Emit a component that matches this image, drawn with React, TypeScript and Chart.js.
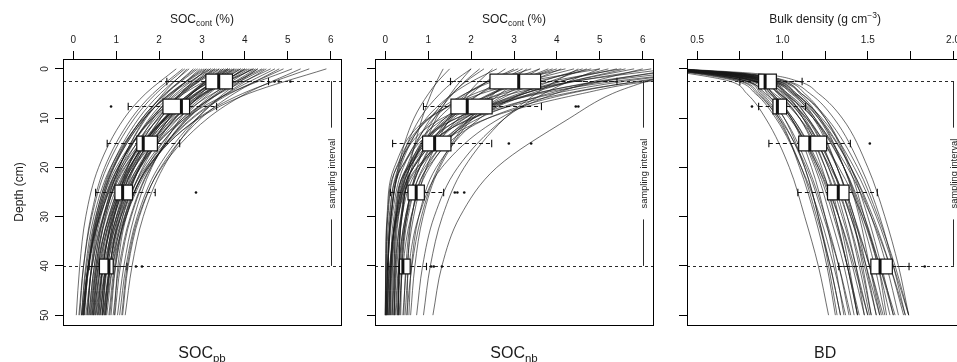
import { useEffect, useRef } from "react";
import { Chart, registerables } from "chart.js";

Chart.register(...registerables);

const FONT = '"Liberation Sans", Arial, Helvetica, sans-serif';
const INK = "#1c1c1c";
Chart.defaults.font.family = FONT;

// ---------- shared depth axis ----------
const DEPTH_MIN = -2;
const DEPTH_MAX = 52;
const DEPTH_TICKS = [0, 10, 20, 30, 40, 50];
const DEPTH_TITLE = "Depth (cm)";
const SAMPLING_TOP = 2.5;
const SAMPLING_BOTTOM = 40;
const SAMPLING_LABEL = "sampling interval";
const BOX_DEPTHS = [2.5, 7.5, 15, 25, 40];

// ---------- SOC x axis ----------
const SOC_TICKS = [0, 1, 2, 3, 4, 5, 6];
const SOC_TICK_LABELS = ["0", "1", "2", "3", "4", "5", "6"];

// ---------- SOC_pb: fitted profiles (value at each knot depth) ----------
const PB_KNOTS = [0, 5, 10, 20, 30, 40, 50];
const PB_CURVES = [
  [2.40, 1.69, 1.19, 0.59, 0.29, 0.15, 0.07],
  [2.55, 1.86, 1.36, 0.73, 0.41, 0.24, 0.15],
  [2.70, 2.03, 1.53, 0.88, 0.53, 0.34, 0.23],
  [2.80, 2.18, 1.70, 1.07, 0.70, 0.49, 0.37],
  [2.90, 2.16, 1.61, 0.91, 0.52, 0.31, 0.19],
  [3.00, 2.30, 1.78, 1.11, 0.75, 0.55, 0.44],
  [3.05, 2.25, 1.66, 0.94, 0.56, 0.36, 0.26],
  [3.10, 2.50, 2.04, 1.39, 1.00, 0.76, 0.62],
  [3.20, 2.29, 1.64, 0.87, 0.48, 0.29, 0.19],
  [3.25, 2.53, 1.98, 1.25, 0.83, 0.58, 0.44],
  [3.30, 2.57, 2.04, 1.34, 0.96, 0.75, 0.64],
  [3.35, 2.50, 1.86, 1.04, 0.59, 0.35, 0.22],
  [3.40, 2.54, 1.92, 1.15, 0.74, 0.53, 0.42],
  [3.45, 2.77, 2.24, 1.55, 1.15, 0.92, 0.78],
  [3.50, 2.77, 2.20, 1.41, 0.94, 0.65, 0.47],
  [3.55, 2.72, 2.11, 1.31, 0.88, 0.64, 0.51],
  [3.60, 2.58, 1.86, 1.00, 0.57, 0.36, 0.25],
  [3.65, 2.76, 2.12, 1.32, 0.90, 0.69, 0.57],
  [3.70, 2.88, 2.26, 1.43, 0.95, 0.68, 0.52],
  [3.75, 2.96, 2.37, 1.62, 1.20, 0.98, 0.85],
  [3.80, 2.84, 2.13, 1.21, 0.71, 0.44, 0.29],
  [3.85, 2.86, 2.16, 1.33, 0.91, 0.70, 0.60],
  [3.90, 2.89, 2.16, 1.25, 0.77, 0.52, 0.39],
  [3.95, 3.17, 2.55, 1.71, 1.19, 0.88, 0.69],
  [4.00, 3.06, 2.37, 1.53, 1.08, 0.85, 0.73],
  [4.10, 3.09, 2.34, 1.37, 0.84, 0.55, 0.40],
  [4.15, 3.28, 2.64, 1.81, 1.35, 1.10, 0.97],
  [4.20, 3.06, 2.26, 1.30, 0.82, 0.58, 0.47],
  [4.30, 3.39, 2.69, 1.77, 1.23, 0.92, 0.74],
  [4.40, 3.26, 2.44, 1.42, 0.88, 0.60, 0.46],
  [4.50, 3.57, 2.88, 1.98, 1.49, 1.23, 1.08],
  [4.60, 3.41, 2.56, 1.55, 1.04, 0.80, 0.67],
  [4.70, 3.59, 2.76, 1.69, 1.11, 0.79, 0.62],
  [4.80, 3.75, 2.98, 2.04, 1.54, 1.28, 1.15],
  [4.90, 3.66, 2.79, 1.74, 1.21, 0.96, 0.83],
  [5.10, 3.62, 2.62, 1.51, 1.01, 0.78, 0.68],
  [5.30, 4.03, 3.14, 2.06, 1.52, 1.26, 1.13],
  [5.50, 3.95, 2.91, 1.75, 1.23, 0.99, 0.88],
  [5.90, 4.09, 2.94, 1.73, 1.24, 1.04, 0.96],
  [2.65, 2.10, 1.67, 1.07, 0.71, 0.49, 0.36],
  [3.15, 2.39, 1.82, 1.05, 0.60, 0.35, 0.20],
  [4.05, 2.94, 2.14, 1.14, 0.62, 0.35, 0.21],
  [3.60, 2.98, 2.50, 1.83, 1.42, 1.18, 1.03],
  [2.95, 2.33, 1.87, 1.27, 0.95, 0.77, 0.67],
  [4.30, 3.51, 2.90, 2.10, 1.63, 1.37, 1.21],
  [3.30, 2.44, 1.82, 1.05, 0.64, 0.43, 0.32],
  [3.60, 2.77, 2.16, 1.36, 0.93, 0.69, 0.56],
  [3.90, 3.03, 2.39, 1.56, 1.10, 0.85, 0.72],
  [4.20, 3.02, 2.19, 1.19, 0.69, 0.44, 0.32],
  [3.40, 2.75, 2.24, 1.54, 1.11, 0.85, 0.69],
  [3.75, 2.74, 2.01, 1.10, 0.62, 0.37, 0.24],
  [4.00, 3.12, 2.46, 1.57, 1.05, 0.76, 0.58],
  [3.20, 2.50, 1.97, 1.27, 0.86, 0.62, 0.49],
  [3.50, 2.71, 2.14, 1.43, 1.05, 0.86, 0.76],
  [2.85, 2.14, 1.61, 0.93, 0.55, 0.35, 0.24],
  [4.45, 3.38, 2.61, 1.65, 1.15, 0.88, 0.75],
  [3.10, 2.26, 1.67, 0.95, 0.60, 0.42, 0.34],
  [3.65, 2.90, 2.31, 1.50, 1.01, 0.71, 0.53],
  [4.25, 3.34, 2.67, 1.80, 1.33, 1.07, 0.93],
  [2.60, 1.93, 1.43, 0.78, 0.43, 0.24, 0.13],
];
// SOC_pb observations per sampling depth
const PB_WHISKER_LO = [2.18, 1.28, 0.79, 0.52, 0.37];
const PB_Q1 = [3.09, 2.09, 1.48, 0.97, 0.61];
const PB_MEDIAN = [3.39, 2.52, 1.63, 1.15, 0.83];
const PB_Q3 = [3.71, 2.71, 1.96, 1.38, 0.93];
const PB_WHISKER_HI = [4.55, 3.34, 2.48, 1.91, 1.25];
const PB_OUTLIERS = [[4.69, 4.79, 5.06], [0.88], [], [2.86], [1.46, 1.6]];

// ---------- SOC_nb: fitted profiles ----------
const NB_KNOTS = [0, 2.5, 5, 10, 20, 30, 40, 50];
const NB_CURVES = [
  [1.50, 1.23, 1.01, 0.67, 0.30, 0.14, 0.06, 0.03],
  [1.35, 1.20, 1.07, 0.86, 0.56, 0.38, 0.27, 0.20],
  [2.00, 1.60, 1.28, 0.81, 0.33, 0.13, 0.05, 0.02],
  [2.30, 1.89, 1.56, 1.06, 0.50, 0.25, 0.14, 0.09],
  [2.60, 2.03, 1.58, 0.96, 0.35, 0.13, 0.05, 0.02],
  [2.80, 2.37, 2.02, 1.47, 0.80, 0.47, 0.31, 0.23],
  [3.00, 2.41, 1.93, 1.25, 0.54, 0.25, 0.13, 0.08],
  [3.20, 2.66, 2.21, 1.55, 0.81, 0.47, 0.32, 0.25],
  [3.40, 2.52, 1.87, 1.02, 0.31, 0.09, 0.03, 0.01],
  [3.60, 2.83, 2.22, 1.39, 0.57, 0.28, 0.16, 0.12],
  [3.80, 3.10, 2.53, 1.72, 0.88, 0.53, 0.39, 0.34],
  [4.00, 3.13, 2.45, 1.50, 0.58, 0.25, 0.12, 0.08],
  [4.20, 2.96, 2.09, 1.04, 0.26, 0.06, 0.02, 0.00],
  [4.40, 3.31, 2.51, 1.46, 0.58, 0.31, 0.23, 0.21],
  [4.60, 3.67, 2.95, 1.95, 0.97, 0.61, 0.48, 0.43],
  [4.80, 3.58, 2.68, 1.51, 0.53, 0.23, 0.14, 0.11],
  [5.00, 3.35, 2.25, 1.01, 0.21, 0.04, 0.01, 0.00],
  [5.20, 4.11, 3.25, 2.07, 0.92, 0.50, 0.34, 0.28],
  [5.50, 3.89, 2.76, 1.40, 0.38, 0.13, 0.07, 0.06],
  [5.80, 4.34, 3.25, 1.85, 0.66, 0.30, 0.20, 0.16],
  [6.20, 4.46, 3.23, 1.76, 0.66, 0.39, 0.32, 0.31],
  [6.60, 4.42, 2.96, 1.33, 0.27, 0.05, 0.01, 0.00],
  [7.00, 4.96, 3.53, 1.80, 0.52, 0.20, 0.13, 0.11],
  [7.50, 5.09, 3.48, 1.67, 0.50, 0.26, 0.21, 0.20],
  [8.00, 5.38, 3.62, 1.66, 0.38, 0.11, 0.07, 0.05],
  [8.00, 5.60, 3.95, 2.00, 0.66, 0.37, 0.32, 0.30],
  [9.00, 6.00, 4.20, 2.05, 0.55, 0.23, 0.17, 0.15],
  [7.00, 6.10, 5.30, 4.30, 2.60, 1.74, 1.32, 1.11],
  [4.50, 3.97, 3.52, 2.79, 1.84, 1.33, 1.05, 0.89],
  [5.00, 4.29, 3.70, 2.79, 1.69, 1.14, 0.87, 0.73],
  [3.60, 3.10, 2.69, 2.04, 1.27, 0.88, 0.69, 0.59],
  [2.50, 2.19, 1.93, 1.51, 0.96, 0.66, 0.50, 0.41],
  [6.00, 4.87, 3.97, 2.68, 1.32, 0.78, 0.55, 0.46],
  [3.10, 2.41, 1.88, 1.14, 0.42, 0.16, 0.06, 0.02],
  [4.10, 3.40, 2.83, 1.98, 1.03, 0.60, 0.41, 0.32],
  [5.40, 4.09, 3.12, 1.87, 0.81, 0.49, 0.39, 0.36],
  [6.80, 5.09, 3.82, 2.19, 0.80, 0.38, 0.25, 0.21],
  [2.20, 1.86, 1.58, 1.14, 0.62, 0.36, 0.23, 0.16],
  [3.90, 3.12, 2.49, 1.59, 0.64, 0.26, 0.11, 0.04],
  [4.70, 3.86, 3.18, 2.21, 1.19, 0.78, 0.61, 0.55],
  [8.00, 5.90, 4.30, 2.40, 0.99, 0.62, 0.53, 0.51],
  [9.50, 6.20, 4.60, 2.40, 0.74, 0.39, 0.32, 0.30],
  [3.30, 2.89, 2.54, 1.97, 1.24, 0.84, 0.62, 0.50],
  [2.00, 1.75, 1.53, 1.19, 0.74, 0.50, 0.36, 0.29],
  [5.60, 4.36, 3.40, 2.06, 0.76, 0.28, 0.10, 0.04],
];
const NB_WHISKER_LO = [1.52, 0.89, 0.17, 0.12, 0.06];
const NB_Q1 = [2.44, 1.53, 0.87, 0.53, 0.33];
const NB_MEDIAN = [3.11, 1.91, 1.15, 0.72, 0.41];
const NB_Q3 = [3.62, 2.49, 1.53, 0.91, 0.58];
const NB_WHISKER_HI = [5.4, 3.64, 2.48, 1.36, 0.96];
const NB_OUTLIERS = [[], [4.44, 4.5], [2.88, 3.4], [1.62, 1.68, 1.84], [1.07, 1.13, 1.32]];

// ---------- bulk density ----------
const BD_TICKS = [0.5, 0.75, 1.0, 1.25, 1.5, 1.75, 2.0];
const BD_TICK_LABELS = ["0.5", "", "1.0", "", "1.5", "", "2.0"];
const BD_KNOTS = [0, 1, 2.5, 5, 10, 20, 30, 40, 50];
const BD_CURVES = [
  [0.25, 0.46, 0.69, 0.79, 0.90, 1.04, 1.13, 1.21, 1.27],
  [0.27, 0.52, 0.75, 0.85, 0.98, 1.14, 1.24, 1.33, 1.40],
  [0.29, 0.56, 0.79, 0.89, 1.01, 1.15, 1.25, 1.33, 1.39],
  [0.30, 0.60, 0.83, 0.93, 1.05, 1.19, 1.28, 1.36, 1.42],
  [0.32, 0.65, 0.88, 0.99, 1.12, 1.27, 1.38, 1.46, 1.52],
  [0.33, 0.68, 0.91, 1.01, 1.13, 1.27, 1.36, 1.43, 1.48],
  [0.35, 0.74, 0.97, 1.08, 1.21, 1.36, 1.46, 1.54, 1.60],
  [0.37, 0.79, 1.02, 1.13, 1.25, 1.39, 1.48, 1.56, 1.61],
  [0.40, 0.86, 1.09, 1.21, 1.35, 1.50, 1.60, 1.68, 1.74],
  [0.30, 0.60, 0.83, 0.95, 1.10, 1.28, 1.41, 1.51, 1.59],
  [0.28, 0.53, 0.76, 0.86, 0.97, 1.11, 1.20, 1.28, 1.34],
  [0.31, 0.63, 0.86, 0.98, 1.12, 1.29, 1.40, 1.49, 1.57],
  [0.33, 0.67, 0.90, 1.02, 1.15, 1.32, 1.42, 1.51, 1.58],
  [0.35, 0.72, 0.95, 1.08, 1.22, 1.40, 1.52, 1.61, 1.68],
  [0.31, 0.62, 0.85, 0.94, 1.05, 1.17, 1.25, 1.31, 1.36],
  [0.34, 0.70, 0.93, 1.05, 1.19, 1.36, 1.47, 1.56, 1.63],
  [0.31, 0.62, 0.85, 0.98, 1.14, 1.33, 1.47, 1.57, 1.66],
  [0.35, 0.74, 0.97, 1.07, 1.19, 1.32, 1.41, 1.47, 1.52],
  [0.33, 0.67, 0.90, 1.03, 1.18, 1.36, 1.48, 1.57, 1.65],
  [0.29, 0.56, 0.79, 0.88, 0.99, 1.13, 1.21, 1.28, 1.34],
  [0.35, 0.72, 0.95, 1.06, 1.18, 1.32, 1.42, 1.49, 1.55],
  [0.31, 0.61, 0.84, 0.94, 1.06, 1.21, 1.31, 1.38, 1.44],
  [0.34, 0.70, 0.93, 1.06, 1.21, 1.40, 1.53, 1.63, 1.71],
  [0.38, 0.80, 1.03, 1.16, 1.30, 1.46, 1.57, 1.65, 1.72],
  [0.29, 0.56, 0.79, 0.90, 1.04, 1.21, 1.33, 1.42, 1.50],
  [0.32, 0.64, 0.87, 0.97, 1.10, 1.25, 1.35, 1.43, 1.50],
  [0.34, 0.69, 0.92, 1.03, 1.15, 1.29, 1.38, 1.45, 1.51],
  [0.30, 0.60, 0.83, 0.93, 1.06, 1.22, 1.33, 1.41, 1.48],
  [0.32, 0.65, 0.88, 1.01, 1.18, 1.38, 1.52, 1.63, 1.72],
  [0.36, 0.75, 0.98, 1.11, 1.26, 1.44, 1.56, 1.66, 1.74],
  [0.28, 0.55, 0.78, 0.87, 0.98, 1.10, 1.19, 1.26, 1.31],
  [0.32, 0.66, 0.89, 0.98, 1.10, 1.23, 1.31, 1.38, 1.44],
  [0.34, 0.71, 0.94, 1.07, 1.23, 1.42, 1.55, 1.65, 1.74],
  [0.30, 0.60, 0.83, 0.91, 1.01, 1.13, 1.21, 1.27, 1.32],
  [0.37, 0.77, 1.00, 1.10, 1.22, 1.36, 1.45, 1.51, 1.57],
  [0.29, 0.58, 0.81, 0.92, 1.05, 1.20, 1.30, 1.38, 1.45],
  [0.32, 0.66, 0.89, 1.00, 1.14, 1.29, 1.40, 1.48, 1.55],
  [0.34, 0.69, 0.92, 1.02, 1.12, 1.25, 1.33, 1.39, 1.44],
  [0.27, 0.50, 0.73, 0.84, 0.96, 1.11, 1.22, 1.30, 1.37],
  [0.37, 0.77, 1.00, 1.11, 1.25, 1.40, 1.50, 1.58, 1.65],
];
const BD_WHISKER_LO = [0.75, 0.86, 0.92, 1.09, 1.33];
const BD_Q1 = [0.86, 0.944, 1.095, 1.264, 1.518];
const BD_MEDIAN = [0.898, 0.97, 1.16, 1.327, 1.572];
const BD_Q3 = [0.964, 1.024, 1.259, 1.39, 1.644];
const BD_WHISKER_HI = [1.115, 1.135, 1.398, 1.556, 1.742];
const BD_OUTLIERS = [[], [0.821], [1.512], [], [1.834]];

// ---------- layout / style ----------
const CANVAS_H = 362;
const TOP_AXIS_H = 59;
const BOTTOM_PAD = 37;
const BOX_HALF = 1.5; // depth units
const STAPLE_HALF = 0.75;
const CURVE_COLOR = "rgba(25,25,25,0.75)";
const CURVE_WIDTH = 0.85;

type Part = { text: string; size: number; dy?: number };

type PanelSpec = {
  left: number;
  width: number;
  axisWidth: number;
  padRight: number;
  xMin: number;
  xMax: number;
  ticks: number[];
  tickLabels: string[];
  knots: number[];
  curves: number[][];
  whiskerLo: number[];
  q1: number[];
  median: number[];
  q3: number[];
  whiskerHi: number[];
  outliers: number[][];
  samplingX: number;
  topTitle: Part[];
  bottomTitle: Part[];
  depthLabels: boolean;
};

const PANELS: PanelSpec[] = [
  {
    left: 0, width: 350, axisWidth: 63, padRight: 9,
    xMin: -0.24, xMax: 6.24, ticks: SOC_TICKS, tickLabels: SOC_TICK_LABELS,
    knots: PB_KNOTS, curves: PB_CURVES,
    whiskerLo: PB_WHISKER_LO, q1: PB_Q1, median: PB_MEDIAN, q3: PB_Q3, whiskerHi: PB_WHISKER_HI, outliers: PB_OUTLIERS,
    samplingX: 6,
    topTitle: [{ text: "SOC", size: 12 }, { text: "cont", size: 8.5, dy: 3 }, { text: " (%)", size: 12 }],
    bottomTitle: [{ text: "SOC", size: 16 }, { text: "pb", size: 11.5, dy: 4 }],
    depthLabels: true,
  },
  {
    left: 350, width: 315, axisWidth: 25, padRight: 12,
    xMin: -0.24, xMax: 6.24, ticks: SOC_TICKS, tickLabels: SOC_TICK_LABELS,
    knots: NB_KNOTS, curves: NB_CURVES,
    whiskerLo: NB_WHISKER_LO, q1: NB_Q1, median: NB_MEDIAN, q3: NB_Q3, whiskerHi: NB_WHISKER_HI, outliers: NB_OUTLIERS,
    samplingX: 6,
    topTitle: [{ text: "SOC", size: 12 }, { text: "cont", size: 8.5, dy: 3 }, { text: " (%)", size: 12 }],
    bottomTitle: [{ text: "SOC", size: 16 }, { text: "nb", size: 11.5, dy: 4 }],
    depthLabels: false,
  },
  {
    left: 665, width: 300, axisWidth: 22, padRight: 0,
    xMin: 0.44, xMax: 2.06, ticks: BD_TICKS, tickLabels: BD_TICK_LABELS,
    knots: BD_KNOTS, curves: BD_CURVES,
    whiskerLo: BD_WHISKER_LO, q1: BD_Q1, median: BD_MEDIAN, q3: BD_Q3, whiskerHi: BD_WHISKER_HI, outliers: BD_OUTLIERS,
    samplingX: 2.0,
    topTitle: [{ text: "Bulk density (g cm", size: 12 }, { text: "\u22123", size: 8.5, dy: -5 }, { text: ")", size: 12 }],
    bottomTitle: [{ text: "BD", size: 16 }],
    depthLabels: false,
  },
];

function seg(ctx: CanvasRenderingContext2D, x1: number, y1: number, x2: number, y2: number) {
  ctx.beginPath();
  ctx.moveTo(x1, y1);
  ctx.lineTo(x2, y2);
  ctx.stroke();
}

function drawParts(ctx: CanvasRenderingContext2D, parts: Part[], cx: number, baseline: number) {
  const widths = parts.map((p) => {
    ctx.font = `${p.size}px ${FONT}`;
    return ctx.measureText(p.text).width;
  });
  const total = widths.reduce((s, w) => s + w, 0);
  let x = cx - total / 2;
  ctx.fillStyle = INK;
  ctx.textAlign = "left";
  ctx.textBaseline = "alphabetic";
  parts.forEach((p, i) => {
    ctx.font = `${p.size}px ${FONT}`;
    ctx.fillText(p.text, x, baseline + (p.dy || 0));
    x += widths[i];
  });
}

function overlayPlugin(p: PanelSpec) {
  return {
    id: "profileOverlay",
    afterDatasetsDraw(chart: any) {
      const ctx: CanvasRenderingContext2D = chart.ctx;
      const a = chart.chartArea;
      const xs = chart.scales.x;
      const ys = chart.scales.y;
      const px = (v: number) => xs.getPixelForValue(v);
      const py = (d: number) => ys.getPixelForValue(d);

      ctx.save();
      ctx.beginPath();
      ctx.rect(a.left, a.top, a.right - a.left, a.bottom - a.top);
      ctx.clip();

      // top and bottom of the sampled layer
      ctx.strokeStyle = "#2a2a2a";
      ctx.lineWidth = 1;
      ctx.setLineDash([3, 3]);
      for (const d of [SAMPLING_TOP, SAMPLING_BOTTOM]) {
        const y = Math.round(py(d)) + 0.5;
        seg(ctx, a.left, y, a.right, y);
      }

      // boxplots of the observations
      BOX_DEPTHS.forEach((d, i) => {
        const yc = Math.round(py(d)) + 0.5;
        const half = py(d + BOX_HALF) - py(d);
        const staple = py(d + STAPLE_HALF) - py(d);
        const xLo = px(p.whiskerLo[i]);
        const xQ1 = px(p.q1[i]);
        const xMed = px(p.median[i]);
        const xQ3 = px(p.q3[i]);
        const xHi = px(p.whiskerHi[i]);
        ctx.strokeStyle = "#111";
        ctx.lineWidth = 1.1;
        ctx.setLineDash([4, 3]);
        seg(ctx, xLo, yc, xQ1, yc);
        seg(ctx, xQ3, yc, xHi, yc);
        ctx.setLineDash([]);
        seg(ctx, xLo, yc - staple, xLo, yc + staple);
        seg(ctx, xHi, yc - staple, xHi, yc + staple);
        ctx.fillStyle = "#fff";
        ctx.fillRect(xQ1, yc - half, xQ3 - xQ1, 2 * half);
        ctx.lineWidth = 1.2;
        ctx.strokeRect(xQ1, yc - half, xQ3 - xQ1, 2 * half);
        ctx.lineWidth = 3;
        seg(ctx, xMed, yc - half, xMed, yc + half);
        ctx.fillStyle = "#111";
        for (const o of p.outliers[i]) {
          ctx.beginPath();
          ctx.arc(px(o), yc, 1.3, 0, Math.PI * 2);
          ctx.fill();
        }
      });

      // sampling interval marker
      const sx = Math.round(px(p.samplingX)) + 0.5;
      const yTop = py(SAMPLING_TOP);
      const yBot = py(SAMPLING_BOTTOM);
      const yMid = (yTop + yBot) / 2;
      ctx.font = `9.3px ${FONT}`;
      const tw = ctx.measureText(SAMPLING_LABEL).width;
      ctx.strokeStyle = "#2a2a2a";
      ctx.lineWidth = 1;
      ctx.setLineDash([]);
      seg(ctx, sx, yTop, sx, yMid - tw / 2 - 11);
      seg(ctx, sx, yMid + tw / 2 + 11, sx, yBot);
      ctx.restore();

      ctx.save();
      ctx.translate(sx + 3, yMid);
      ctx.rotate(-Math.PI / 2);
      ctx.fillStyle = INK;
      ctx.font = `9.3px ${FONT}`;
      ctx.textAlign = "center";
      ctx.textBaseline = "alphabetic";
      ctx.fillText(SAMPLING_LABEL, 0, 0);
      ctx.restore();

      // plot frame
      ctx.save();
      ctx.strokeStyle = "#000";
      ctx.lineWidth = 1;
      ctx.setLineDash([]);
      ctx.strokeRect(a.left + 0.5, a.top + 0.5, a.right - a.left, a.bottom - a.top);

      // depth axis labels
      if (p.depthLabels) {
        ctx.fillStyle = INK;
        ctx.textAlign = "center";
        ctx.textBaseline = "alphabetic";
        ctx.font = `10px ${FONT}`;
        for (const d of DEPTH_TICKS) {
          ctx.save();
          ctx.translate(a.left - 15, py(d));
          ctx.rotate(-Math.PI / 2);
          ctx.fillText(String(d), 0, 0);
          ctx.restore();
        }
        ctx.font = `12px ${FONT}`;
        ctx.save();
        ctx.translate(a.left - 40, (a.top + a.bottom) / 2);
        ctx.rotate(-Math.PI / 2);
        ctx.fillText(DEPTH_TITLE, 0, 0);
        ctx.restore();
      }

      const cx = (a.left + a.right) / 2;
      drawParts(ctx, p.topTitle, cx, a.top - 36);
      drawParts(ctx, p.bottomTitle, cx, a.bottom + 33);
      ctx.restore();
    },
  };
}

function buildConfig(p: PanelSpec): any {
  return {
    type: "line",
    data: {
      datasets: p.curves.map((row) => ({
        data: row.map((v, i) => ({ x: v, y: p.knots[i] })),
        borderColor: CURVE_COLOR,
        borderWidth: CURVE_WIDTH,
        pointRadius: 0,
        pointHitRadius: 0,
        fill: false,
        cubicInterpolationMode: "monotone",
        capBezierPoints: false,
      })),
    },
    options: {
      indexAxis: "y",
      animation: false,
      responsive: false,
      devicePixelRatio: 1,
      events: [],
      layout: { padding: { left: 0, top: 0, right: p.padRight, bottom: BOTTOM_PAD } },
      plugins: { legend: { display: false }, tooltip: { enabled: false }, title: { display: false } },
      elements: { line: { capBezierPoints: false }, point: { radius: 0 } },
      scales: {
        x: {
          type: "linear",
          position: "top",
          min: p.xMin,
          max: p.xMax,
          afterBuildTicks: (s: any) => {
            s.ticks = p.ticks.map((v) => ({ value: v }));
          },
          afterFit: (s: any) => {
            s.height = TOP_AXIS_H;
          },
          ticks: {
            autoSkip: false,
            maxRotation: 0,
            minRotation: 0,
            padding: 5,
            color: INK,
            font: { family: FONT, size: 10 },
            callback: (v: number) => {
              const i = p.ticks.findIndex((t) => Math.abs(t - v) < 1e-9);
              return i >= 0 ? p.tickLabels[i] : "";
            },
          },
          grid: { drawOnChartArea: false, drawTicks: true, tickLength: 8, color: "#000", lineWidth: 1 },
          border: { display: false },
        },
        y: {
          type: "linear",
          position: "left",
          reverse: true,
          min: DEPTH_MIN,
          max: DEPTH_MAX,
          afterBuildTicks: (s: any) => {
            s.ticks = DEPTH_TICKS.map((v) => ({ value: v }));
          },
          afterFit: (s: any) => {
            s.width = p.axisWidth;
          },
          ticks: { display: false },
          grid: { drawOnChartArea: false, drawTicks: true, tickLength: 8, color: "#000", lineWidth: 1 },
          border: { display: false },
        },
      },
    },
    plugins: [overlayPlugin(p)],
  };
}

function Panel({ spec }: { spec: PanelSpec }) {
  const ref = useRef<HTMLCanvasElement | null>(null);
  useEffect(() => {
    if (!ref.current) return;
    const chart = new Chart(ref.current, buildConfig(spec));
    return () => chart.destroy();
  }, [spec]);
  return (
    <canvas
      ref={ref}
      width={spec.width}
      height={CANVAS_H}
      style={{ position: "absolute", left: spec.left, top: 0, width: spec.width, height: CANVAS_H }}
    />
  );
}

export default function App() {
  return (
    <div
      style={{
        position: "absolute",
        left: 0,
        top: 0,
        width: 957,
        height: CANVAS_H,
        overflow: "hidden",
        background: "#fff",
      }}
    >
      {PANELS.map((spec, i) => (
        <Panel key={i} spec={spec} />
      ))}
    </div>
  );
}
